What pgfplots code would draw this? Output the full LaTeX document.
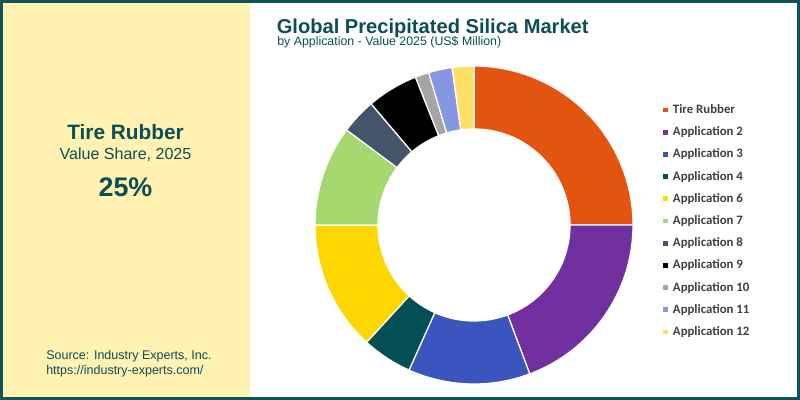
\documentclass[border=0pt]{standalone}
\usepackage{pgfplots}
\pgfplotsset{compat=1.18}
\usepackage{pgfplotstable}
\usepackage{fontspec}
\setmainfont{Liberation Sans}
\newfontfamily\legfont{Carlito}

\definecolor{brand}{HTML}{0B4F55}
\definecolor{frame}{HTML}{0E5458}
\definecolor{panel}{HTML}{FFF2B3}
\definecolor{legtext}{HTML}{404040}
\definecolor{cA}{HTML}{E35411}
\definecolor{cB}{HTML}{7030A0}
\definecolor{cC}{HTML}{3A55BE}
\definecolor{cD}{HTML}{034F55}
\definecolor{cE}{HTML}{FFD700}
\definecolor{cF}{HTML}{A5D86E}
\definecolor{cG}{HTML}{44546A}
\definecolor{cH}{HTML}{000000}
\definecolor{cI}{HTML}{A5A5A5}
\definecolor{cJ}{HTML}{8497E0}
\definecolor{cK}{HTML}{FFE066}

\pgfplotstableread[col sep=comma]{
name,value,col
Tire Rubber,25.0,cA
Application 2,19.3,cB
Application 3,12.4,cC
Application 4,5.1,cD
Application 6,13.2,cE
Application 7,10.2,cF
Application 8,3.6,cG
Application 9,5.2,cH
Application 10,1.4,cI
Application 11,2.4,cJ
Application 12,2.2,cK
}\sharedata

\pgfplotsset{sqleg/.style={legend image code/.code={%
  \fill[##1, draw=none] (0cm,-0.06cm) rectangle (0.12cm,0.06cm);
  \path (0.255cm,0cm);}}}

\begin{document}
\begin{tikzpicture}
\begin{axis}[
  x=0.025cm, y=0.025cm,
  xmin=0, xmax=800, ymin=0, ymax=400,
  hide axis, clip=false,
  legend cell align=left,
  legend style={at={(axis cs:662.5,296)}, anchor=north west, draw=none, fill=none,
    inner sep=0pt, row sep=7.8pt, column sep=0pt,
    font=\legfont\bfseries\fontsize{9.1}{9.1}\selectfont, text=legtext,
    nodes={inner sep=0pt, text height=6.5pt, text depth=1.5pt}},
]
% background, panel, frame
\fill[white] (axis cs:0,0) rectangle (axis cs:800,400);
\fill[panel] (axis cs:0,0) rectangle (axis cs:250,400);
\draw[frame, line width=0.07cm] (axis cs:1.4,1.4) rectangle (axis cs:798.6,398.6);

% title
\node[anchor=base west, text=brand, font=\bfseries\fontsize{14.3}{14.3}\selectfont, inner sep=0pt] at (axis cs:276.5,366.5) {Global Precipitated Silica Market};
\node[anchor=base west, text=brand, font=\fontsize{8.8}{8.8}\selectfont, inner sep=0pt] at (axis cs:277,354.3) {by Application - Value 2025 (US\$ Million)};

% left panel text
\node[anchor=base, text=brand, font=\bfseries\fontsize{14.8}{14.8}\selectfont, inner sep=0pt] at (axis cs:125.5,260) {Tire Rubber};
\node[anchor=base, text=brand, font=\fontsize{11.4}{11.4}\selectfont, inner sep=0pt] at (axis cs:125.5,240) {Value Share, 2025};
\node[anchor=base, text=brand, font=\bfseries\fontsize{19.1}{19.1}\selectfont, inner sep=0pt] at (axis cs:125.5,203) {25\%};
\node[anchor=base west, text=brand, font=\fontsize{8.9}{8.9}\selectfont, inner sep=0pt] at (axis cs:46,40) {Source: Industry Experts, Inc.};
\node[anchor=base west, text=brand, font=\fontsize{8.9}{8.9}\selectfont, inner sep=0pt] at (axis cs:46,25) {https://industry-experts.com/};

% donut slices from the table
\pgfplotstablegetrowsof{\sharedata}
\pgfmathtruncatemacro\nrows{\pgfplotsretval-1}
\gdef\slcum{0}
\pgfplotsforeachungrouped \i in {0,...,\nrows}{%
  \pgfplotstablegetelem{\i}{value}\of\sharedata \let\slval\pgfplotsretval
  \pgfplotstablegetelem{\i}{col}\of\sharedata \let\slcol\pgfplotsretval
  \pgfplotstablegetelem{\i}{name}\of\sharedata \let\slname\pgfplotsretval
  \pgfmathsetmacro\angA{90-3.6*\slcum}
  \pgfmathsetmacro\angB{90-3.6*(\slcum+\slval)}
  \pgfmathsetmacro\pxo{474+159*cos(\angA)}
  \pgfmathsetmacro\pyo{175+159*sin(\angA)}
  \pgfmathsetmacro\pxi{474+96*cos(\angB)}
  \pgfmathsetmacro\pyi{175+96*sin(\angB)}
  \edef\sltemp{\noexpand\fill[fill=\slcol, draw=white, line width=0.9pt, line join=round]
    (axis cs:\pxo,\pyo) arc[start angle=\angA, end angle=\angB, radius=3.975cm]
    -- (axis cs:\pxi,\pyi) arc[start angle=\angB, end angle=\angA, radius=2.4cm] -- cycle;}%
  \sltemp
  \edef\sltemp{\noexpand\addlegendimage{sqleg, fill=\slcol, draw=none}\noexpand\addlegendentry{\slname}}%
  \sltemp
  \pgfmathsetmacro\slcumnew{\slcum+\slval}
  \global\let\slcum\slcumnew
}
\end{axis}
\end{tikzpicture}
\end{document}
